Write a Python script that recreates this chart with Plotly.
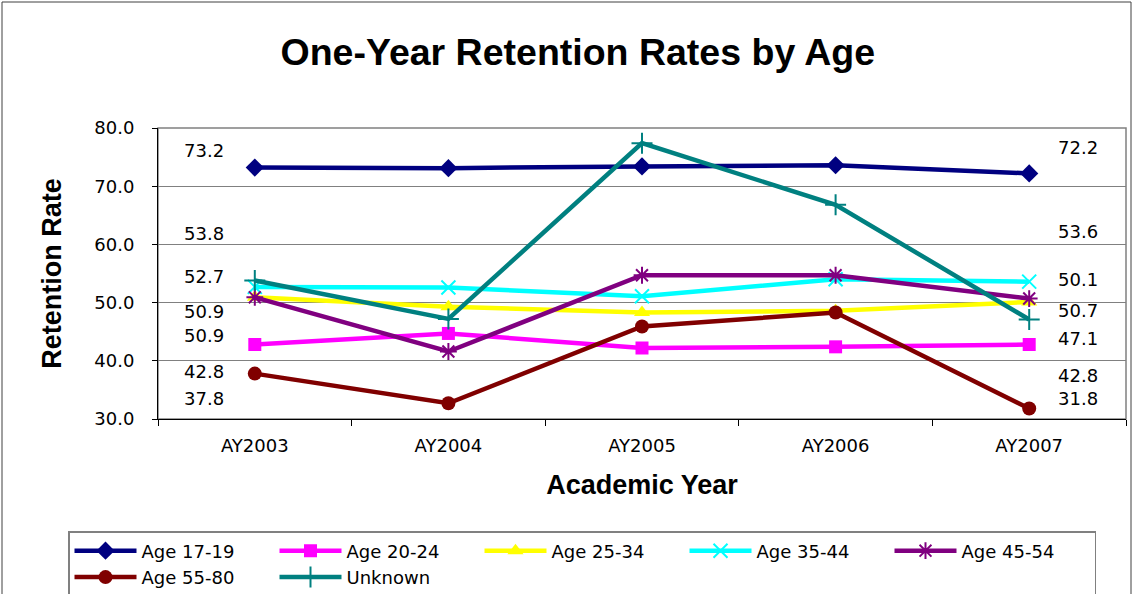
import plotly.graph_objects as go

# --- données ---
ANNEES = ["AY2003", "AY2004", "AY2005", "AY2006", "AY2007"]

AGE_17_19 = [73.2, 73.1, 73.4, 73.6, 72.2]
AGE_20_24 = [42.8, 44.7, 42.2, 42.4, 42.8]
AGE_25_34 = [50.9, 49.3, 48.3, 48.6, 50.1]
AGE_35_44 = [52.7, 52.6, 51.1, 54.0, 53.6]
AGE_45_54 = [50.9, 41.6, 54.7, 54.7, 50.7]
AGE_55_80 = [37.8, 32.7, 45.9, 48.3, 31.8]
INCONNU = [53.8, 47.2, 77.4, 66.8, 47.1]

NOMS = ["Age 17-19", "Age 20-24", "Age 25-34", "Age 35-44",
        "Age 45-54", "Age 55-80", "Unknown"]
SERIES = [AGE_17_19, AGE_20_24, AGE_25_34, AGE_35_44,
          AGE_45_54, AGE_55_80, INCONNU]

# style de chaque série (couleur, symbole, taille)
STYLES = [
    ("#000080", "diamond", 14),
    ("#FF00FF", "square", 13),
    ("#FFFF00", "triangle-up", 14),
    ("#00FFFF", "x-thin-open", 14),
    ("#800080", "asterisk-open", 14),
    ("#800000", "circle", 14),
    ("#008080", "cross-thin-open", 15),
]

# étiquettes des valeurs de début / fin : (index de série, position verticale)
ETIQ_GAUCHE = [(0, 76.1), (6, 61.8), (3, 54.4), (2, 48.4), (4, 44.3), (1, 38.1), (5, 33.6)]
ETIQ_DROITE = [(0, 76.6), (3, 62.3), (2, 53.9), (4, 48.6), (6, 43.9), (1, 37.4), (5, 33.6)]

POLICE = "DejaVu Sans, Verdana, sans-serif"
POLICE_TITRE = "Liberation Sans, Arial, sans-serif"

fig = go.Figure()
for nom, vals, (coul, sym, taille) in zip(NOMS, SERIES, STYLES):
    ouvert = sym.endswith("-open")
    fig.add_trace(go.Scatter(
        x=ANNEES, y=vals, name=nom, mode="lines+markers",
        line=dict(color=coul, width=4.5),
        marker=dict(
            symbol=sym, size=taille, color=coul,
            line=dict(color=coul, width=2 if ouvert else 0),
        ),
    ))

annots = []
for i, ypos in ETIQ_GAUCHE:
    annots.append(dict(x=-0.26, y=ypos, xref="x", yref="y", showarrow=False,
                       text=f"{SERIES[i][0]:.1f}", font=dict(size=18, color="black", family=POLICE)))
for i, ypos in ETIQ_DROITE:
    annots.append(dict(x=4.25, y=ypos, xref="x", yref="y", showarrow=False,
                       text=f"{SERIES[i][-1]:.1f}", font=dict(size=18, color="black", family=POLICE)))

fig.update_layout(
    width=1133, height=594,
    margin=dict(l=158, r=7, t=128, b=175, autoexpand=False),
    paper_bgcolor="white", plot_bgcolor="white",
    font=dict(family=POLICE, size=18, color="black"),
    title=dict(
        text="One-Year Retention Rates by Age",
        x=0.51, xref="container", xanchor="center",
        y=1 - 52 / 594, yref="container", yanchor="middle",
        font=dict(family=POLICE_TITRE, size=37.5, color="black", weight="bold"),
    ),
    xaxis=dict(
        type="category", range=[-0.5, 4.5], automargin=False,
        showline=True, linecolor="black", linewidth=1,
        ticks="outside", ticklen=6, tickcolor="black", tickson="boundaries",
        ticklabelstandoff=10,
        showgrid=False,
        title=dict(text="Academic Year", standoff=20,
                   font=dict(family=POLICE_TITRE, size=27, weight="bold")),
    ),
    yaxis=dict(
        range=[30, 80], dtick=10, tickformat=".1f", automargin=False,
        showline=True, linecolor="black", linewidth=1,
        ticks="outside", ticklen=5, tickcolor="black",
        ticklabelstandoff=14,
        showgrid=True, gridcolor="#808080", gridwidth=1,
        zeroline=False,
        title=dict(text="Retention Rate", standoff=24,
                   font=dict(family=POLICE_TITRE, size=27, weight="bold")),
    ),
    legend=dict(
        orientation="h",
        x=(68 - 158) / 968, xanchor="left",
        y=(419 - 531) / 291, yanchor="top",
        bordercolor="#808080", borderwidth=1.5,
        entrywidth=128, entrywidthmode="pixels",
        font=dict(family=POLICE, size=18, color="black"),
        itemwidth=62, traceorder="normal",
    ),
    annotations=annots,
    shapes=[
        # bord de la zone de tracé
        dict(type="rect", xref="paper", yref="paper", x0=0, x1=1, y0=0, y1=1,
             line=dict(color="#808080", width=1.5), layer="below"),
        # cadre extérieur du graphique
        dict(type="rect", xref="paper", yref="paper",
             x0=(2 - 158) / 968, x1=(1131 - 158) / 968,
             y0=(419 - 600) / 291, y1=(419 - 2) / 291,
             line=dict(color="#404040", width=1)),
    ],
)

# la page HTML ajoute une marge de 8 px au body : on la supprime
fig.write_html("out.html", config={"displayModeBar": False},
               post_script="document.body.style.margin='0px';")
